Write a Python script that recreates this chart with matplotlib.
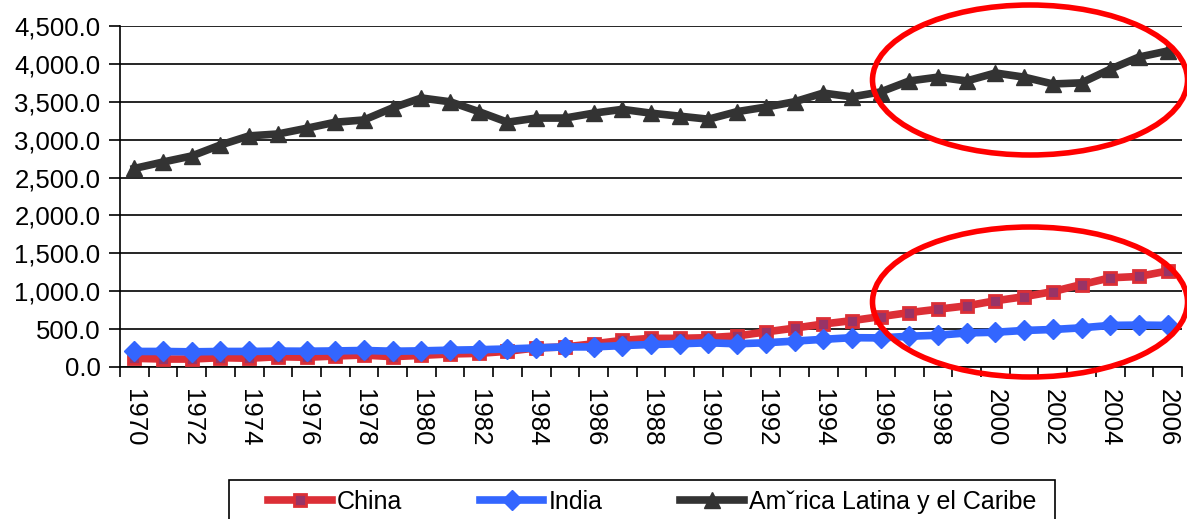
import matplotlib
matplotlib.use("Agg")
import matplotlib.pyplot as plt
from matplotlib.patches import Ellipse, Rectangle
from matplotlib.ticker import FuncFormatter, FixedLocator

plt.rcParams['font.family'] = ['Liberation Sans', 'DejaVu Sans']

years = list(range(1970, 2007))

china = [115, 105, 105, 123, 115, 136, 128, 145, 158, 136, 154, 172, 180, 207,
         252, 265, 306, 351, 378, 378, 387, 410, 463, 513, 567, 612, 665, 718,
         763, 807, 874, 928, 995, 1088, 1177, 1195, 1267]

india = [205, 205, 200, 205, 205, 210, 208, 212, 218, 208, 213, 222, 228, 238,
         252, 265, 265, 283, 297, 306, 320, 306, 320, 342, 365, 387, 384, 406,
         419, 450, 459, 482, 495, 517, 549, 553, 549]

latam = [2620, 2705, 2785, 2930, 3050, 3075, 3150, 3230, 3260, 3420, 3550, 3500,
         3370, 3230, 3285, 3285, 3350, 3400, 3350, 3310, 3270, 3370, 3430, 3500,
         3615, 3565, 3630, 3775, 3825, 3775, 3880, 3825, 3735, 3750, 3930, 4090,
         4170]

series_names = ['China', 'India', 'Amˇrica Latina y el Caribe']
y_ticks = [0, 500, 1000, 1500, 2000, 2500, 3000, 3500, 4000, 4500]

FS = 18.5
W, H = 1187, 519
fig = plt.figure(figsize=(W / 100, H / 100), dpi=100)
ax = fig.add_axes([120 / W, 1 - 367 / H, (1182 - 120) / W, (367 - 26) / H])

x = list(range(len(years)))

l1, = ax.plot(x, china, color='#DC2F36', lw=5.5, marker='s', markersize=9,
              markerfacecolor='#993366', markeredgecolor='#DC2F36',
              markeredgewidth=2, label=series_names[0], zorder=3)
l2, = ax.plot(x, india, color='#3366FF', lw=5.5, marker='D', markersize=10,
              markerfacecolor='#3366FF', markeredgecolor='#3366FF',
              label=series_names[1], zorder=4)
l3, = ax.plot(x, latam, color='#333333', lw=5.5, marker='^', markersize=12,
              markerfacecolor='#333333', markeredgecolor='#333333',
              label=series_names[2], zorder=3)

ax.set_xlim(-0.5, len(years) - 0.5)
ax.set_ylim(0, 4500)
ax.set_yticks(y_ticks)
ax.yaxis.set_major_formatter(FuncFormatter(lambda v, p: f"{v:,.1f}"))
ax.grid(axis='y', color='black', lw=1.2)
ax.set_axisbelow(True)

# category labels every other year, tick marks on category boundaries
ax.set_xticks(x[::2])
ax.set_xticklabels([str(y) for y in years[::2]], rotation=270, fontsize=FS)
ax.xaxis.set_minor_locator(FixedLocator([i - 0.5 for i in range(len(years) + 1)]))
ax.tick_params(axis='x', which='major', length=0, pad=16)
ax.tick_params(axis='x', which='minor', length=7, width=1.2, direction='out')
ax.tick_params(axis='y', length=8, width=1.2, direction='out', labelsize=FS, pad=6)

for side in ['top', 'right']:
    ax.spines[side].set_visible(False)
ax.spines['left'].set_linewidth(1.2)
ax.spines['bottom'].set_linewidth(1.2)

# legend entries without their own frame; the box is drawn separately
leg = fig.legend(handles=[l1, l2, l3], loc='center left',
                 bbox_to_anchor=(268 / W, 1 - 502 / H), ncol=3, fontsize=18,
                 frameon=False, handlelength=2.55, columnspacing=3.1,
                 handletextpad=0.2, borderpad=0, borderaxespad=0)
fig.patches.append(Rectangle((229 / W, -0.05), (1055 - 229) / W, (1 - 480 / H) + 0.05,
                             transform=fig.transFigure, fill=False,
                             edgecolor='black', lw=1.2))

# highlight rings around the latest period
for cy in (80, 302):
    fig.patches.append(Ellipse((1030 / W, 1 - cy / H), 315 / W, 150 / H,
                               transform=fig.transFigure, fill=False,
                               edgecolor='#FF0000', lw=4, zorder=10))

fig.savefig('out.png', dpi=100)
